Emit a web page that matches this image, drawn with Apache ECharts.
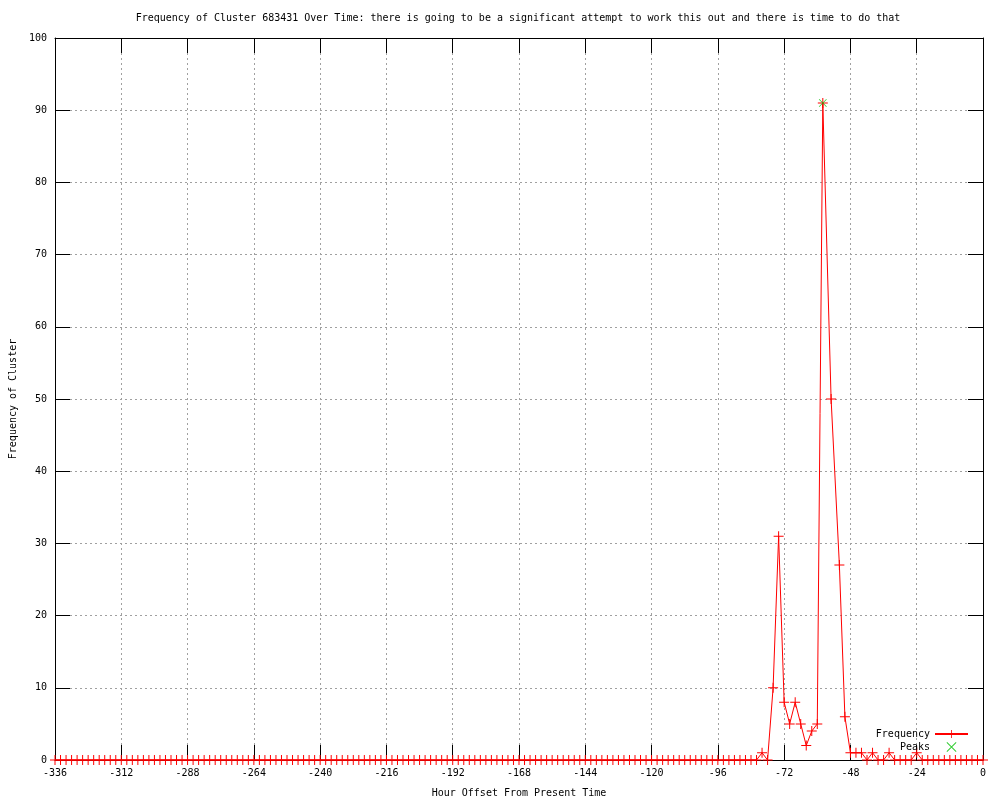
<!DOCTYPE html>
<html>
<head>
<meta charset="utf-8">
<script src="https://cdn.jsdelivr.net/npm/echarts@6/dist/echarts.min.js"></script>
<style>html,body{margin:0;padding:0;background:#fff}#c{width:1000px;height:800px}</style>
</head>
<body>
<div id="c"></div>
<script>
const titleText = 'Frequency of Cluster 683431 Over Time: there is going to be a significant attempt to work this out and there is time to do that';
const xAxisName = 'Hour Offset From Present Time';
const yAxisName = 'Frequency of Cluster';
const xTicks = [-336, -312, -288, -264, -240, -216, -192, -168, -144, -120, -96, -72, -48, -24, 0];
const yTicks = [0, 10, 20, 30, 40, 50, 60, 70, 80, 90, 100];

const hours = [
  -336,-334,-332,-330,-328,-326,-324,-322,-320,-318,-316,-314,-312,-310,-308,-306,
  -304,-302,-300,-298,-296,-294,-292,-290,-288,-286,-284,-282,-280,-278,-276,-274,
  -272,-270,-268,-266,-264,-262,-260,-258,-256,-254,-252,-250,-248,-246,-244,-242,
  -240,-238,-236,-234,-232,-230,-228,-226,-224,-222,-220,-218,-216,-214,-212,-210,
  -208,-206,-204,-202,-200,-198,-196,-194,-192,-190,-188,-186,-184,-182,-180,-178,
  -176,-174,-172,-170,-168,-166,-164,-162,-160,-158,-156,-154,-152,-150,-148,-146,
  -144,-142,-140,-138,-136,-134,-132,-130,-128,-126,-124,-122,-120,-118,-116,-114,
  -112,-110,-108,-106,-104,-102,-100,-98,-96,-94,-92,-90,-88,-86,-84,-82,
  -80,-78,-76,-74,-72,-70,-68,-66,-64,-62,-60,-58,
  -55,
  -52,-50,-48,-46,-44,-42,-40,-38,-36,-34,-32,-30,-28,-26,-24,
  -22,-20,-18,-16,-14,-12,-10,-8,-6,-4,-2,0
];
const frequency = [
  0,0,0,0,0,0,0,0,0,0,0,0,0,0,0,0,
  0,0,0,0,0,0,0,0,0,0,0,0,0,0,0,0,
  0,0,0,0,0,0,0,0,0,0,0,0,0,0,0,0,
  0,0,0,0,0,0,0,0,0,0,0,0,0,0,0,0,
  0,0,0,0,0,0,0,0,0,0,0,0,0,0,0,0,
  0,0,0,0,0,0,0,0,0,0,0,0,0,0,0,0,
  0,0,0,0,0,0,0,0,0,0,0,0,0,0,0,0,
  0,0,0,0,0,0,0,0,0,0,0,0,0,0,0,0,
  1,0,10,31,8,5,8,5,2,4,5,91,
  50,
  27,6,1,1,1,0,1,0,0,1,0,0,0,0,1,
  0,0,0,0,0,0,0,0,0,0,0,0
];
const peakHours = [-58];
const peakValues = [91];

const FONT = 'DejaVu Sans Mono';
const plusPath = 'path://M0,4.5H10V5.5H0Z M4.5,0H5.5V10H4.5Z';
const crossPath = 'path://M0.7,0L10,9.3L9.3,10L0,0.7Z M9.3,0L10,0.7L0.7,10L0,9.3Z';

const freqData = hours.map((h, i) => [h, frequency[i]]);
const peakData = peakHours.map((h, i) => [h, peakValues[i]]);

const gridLine = { show: true, lineStyle: { color: '#a0a0a0', type: [2, 3], width: 1 } };
const tickStyle = { show: true, inside: true, length: 15, lineStyle: { color: '#000', width: 1 } };
const lineStyleAxis = { show: true, onZero: false, lineStyle: { color: '#000', width: 1 } };
const xMin = xTicks[0], xMax = xTicks[xTicks.length - 1];
const yMin = yTicks[0], yMax = yTicks[yTicks.length - 1];
const small = { fontFamily: FONT, fontSize: 10, color: '#000' };

const chart = echarts.init(document.getElementById('c'), null, { renderer: 'canvas' });
chart.setOption({
  animation: false,
  backgroundColor: '#fff',
  textStyle: { fontFamily: FONT },
  graphic: [{
    type: 'text', x: 518, y: 18,
    style: { text: titleText, font: '10px "' + FONT + '"', fill: '#000', textAlign: 'center', textVerticalAlign: 'middle' }
  }],
  grid: { left: 55, right: 17, top: 38, bottom: 40, containLabel: false, outerBoundsMode: 'none' },
  legend: {
    orient: 'vertical', right: 26, top: 723, align: 'right',
    itemWidth: 33, itemHeight: 10, itemGap: 1,
    textStyle: Object.assign({ lineHeight: 12 }, small),
    data: ['Frequency', 'Peaks']
  },
  xAxis: [{
    type: 'value', min: xMin, max: xMax, interval: 24, position: 'bottom',
    name: xAxisName, nameLocation: 'middle', nameGap: 28,
    nameTextStyle: small,
    axisLine: lineStyleAxis, axisTick: tickStyle,
    axisLabel: Object.assign({ margin: 8, showMinLabel: true, showMaxLabel: true }, small),
    splitLine: gridLine
  }, {
    type: 'value', min: xMin, max: xMax, interval: 24, position: 'top',
    axisLine: lineStyleAxis, axisTick: tickStyle, axisLabel: { show: false }, splitLine: { show: false }
  }],
  yAxis: [{
    type: 'value', min: yMin, max: yMax, interval: 10, position: 'left',
    name: yAxisName, nameLocation: 'middle', nameGap: 37, nameRotate: 90,
    nameTextStyle: small,
    axisLine: lineStyleAxis, axisTick: tickStyle,
    axisLabel: Object.assign({ margin: 8 }, small),
    splitLine: gridLine
  }, {
    type: 'value', min: yMin, max: yMax, interval: 10, position: 'right',
    axisLine: lineStyleAxis, axisTick: tickStyle, axisLabel: { show: false }, splitLine: { show: false }
  }],
  series: [{
    name: 'Frequency', type: 'line', xAxisIndex: 0, yAxisIndex: 0,
    data: freqData, clip: false,
    symbol: plusPath, symbolSize: 10, showAllSymbol: true,
    lineStyle: { color: '#ff0000', width: 1 },
    itemStyle: { color: '#ff0000' },
    emphasis: { disabled: true }
  }, {
    name: 'Peaks', type: 'scatter', xAxisIndex: 0, yAxisIndex: 0,
    data: peakData, clip: false,
    symbol: crossPath, symbolSize: 8,
    itemStyle: { color: '#00c000' },
    z: 3
  }]
});
</script>
</body>
</html>
